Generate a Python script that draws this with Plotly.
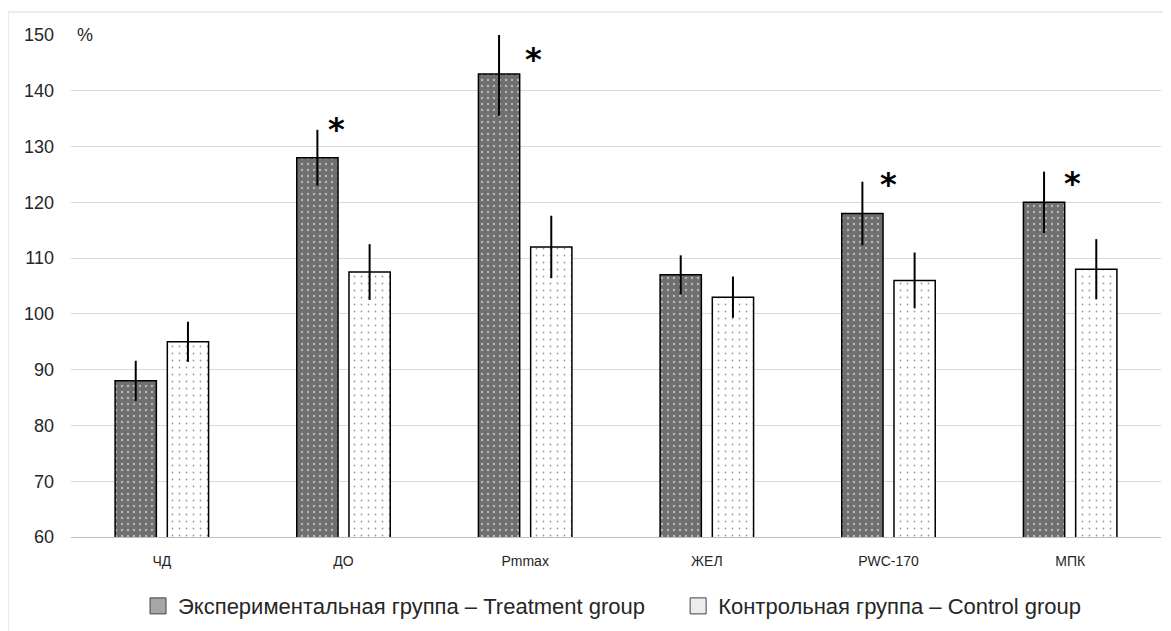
import plotly.graph_objects as go

categories = ["ЧД", "ДО", "Pmmax", "ЖЕЛ", "PWC-170", "МПК"]
treatment = [88, 128, 143, 107, 118, 120]
treatment_err = [3.6, 5.0, 7.5, 3.5, 5.7, 5.5]
control = [95, 107.5, 112, 103, 106, 108]
control_err = [3.6, 5.0, 5.6, 3.7, 5.0, 5.4]
treatment_name = "Экспериментальная группа – Treatment group"
control_name = "Контрольная группа – Control group"
y_ticks = [60, 70, 80, 90, 100, 110, 120, 130, 140, 150]
# significance markers: (category, y of star, horizontal shift in px)
stars = [("ДО", 134.2, -7), ("Pmmax", 146.7, 8), ("PWC-170", 124.4, 0), ("МПК", 124.6, 2)]

fig = go.Figure()
fig.add_bar(
    x=categories, y=treatment, name=treatment_name, showlegend=False,
    marker=dict(color="#6f6f6f", line=dict(color="black", width=1.5),
                pattern=dict(shape=".", fgcolor="white", bgcolor="#6f6f6f", size=6, solidity=0.12)),
    error_y=dict(type="data", array=treatment_err, color="black", thickness=2, width=0),
)
fig.add_bar(
    x=categories, y=control, name=control_name, showlegend=False,
    marker=dict(color="white", line=dict(color="black", width=1.5),
                pattern=dict(shape=".", fgcolor="#333333", bgcolor="white", size=7, solidity=0.05)),
    error_y=dict(type="data", array=control_err, color="black", thickness=2, width=0),
)
# legend entries (no data, markers only), each in its own legend box
fig.add_scatter(x=[None], y=[None], mode="markers", name=treatment_name, legend="legend",
                marker=dict(symbol="square", size=16, color="#a6a6a6", line=dict(color="#404040", width=1)))
fig.add_scatter(x=[None], y=[None], mode="markers", name=control_name, legend="legend2",
                marker=dict(symbol="square", size=16, color="#ececec", line=dict(color="#404040", width=1)))

annotations = []
for cat, yv, xs in stars:
    annotations.append(dict(x=cat, y=yv, xref="x", yref="y", text="<b>*</b>", showarrow=False,
                            xshift=xs, yanchor="middle", yshift=-6,
                            font=dict(family="DejaVu Sans", size=32, color="black")))
annotations.append(dict(x=0.0128, y=150, xref="paper", yref="y", text="%", showarrow=False,
                        xanchor="center", yanchor="middle",
                        font=dict(family="Liberation Sans, Arial", size=18, color="#262626")))

legend_style = dict(orientation="h", xanchor="left", yref="container", y=0.040, yanchor="middle",
                    font=dict(size=22, family="Liberation Sans, Arial", color="#262626"),
                    bgcolor="rgba(0,0,0,0)")

fig.update_layout(
    width=1163, height=623,
    margin=dict(l=63, r=10, t=27, b=94, autoexpand=False),
    paper_bgcolor="white", plot_bgcolor="white",
    barmode="group", bargap=0.425, bargroupgap=0.21,
    font=dict(family="Liberation Sans, Arial", color="#262626"),
    xaxis=dict(showline=True, linecolor="#bfbfbf", linewidth=1, ticks="", showgrid=False,
               tickfont=dict(size=14), ticklabelstandoff=11),
    yaxis=dict(range=[60, 150], tickvals=y_ticks, showgrid=True, gridcolor="#d9d9d9",
               gridwidth=1, zeroline=False, ticks="", tickfont=dict(size=18),
               ticklabelstandoff=16),
    legend=dict(x=0.0615, **legend_style),
    legend2=dict(x=0.557, **legend_style),
    annotations=annotations,
    shapes=[dict(type="rect", xref="paper", yref="paper", x0=-0.0578, x1=1.02, y0=-0.4, y1=1.0458,
                 line=dict(color="#d9d9d9", width=1), layer="below")],
)
fig.write_html("out.html")
